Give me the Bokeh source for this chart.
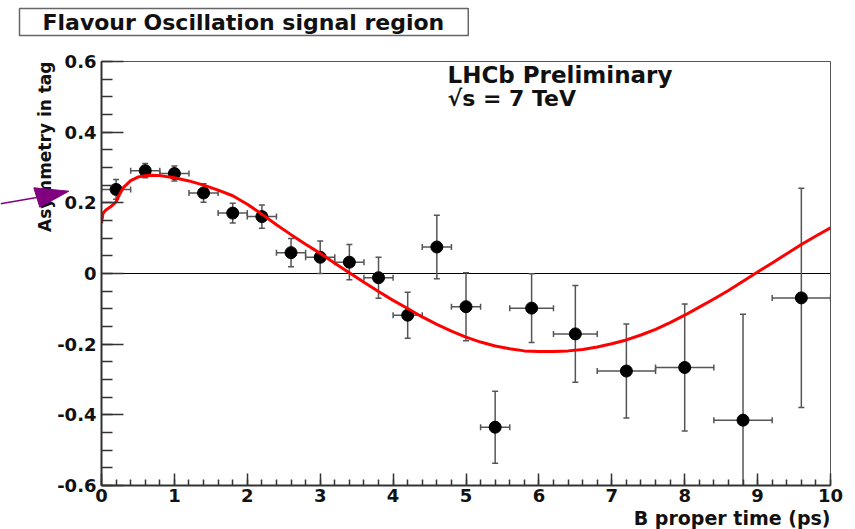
import math
from bokeh.plotting import figure
from bokeh.models import (Range1d, FixedTicker, CustomJSTickFormatter, Span,
                          Label, ColumnDataSource, Title)
from bokeh.embed import file_html
from bokeh.resources import INLINE

# ---- data ----
t = [0.2, 0.6, 1.0, 1.4, 1.8, 2.2, 2.6, 3.0, 3.4, 3.8, 4.2, 4.6, 5.0, 5.4,
     5.9, 6.5, 7.2, 8.0, 8.8, 9.6]
t_err = [0.2, 0.2, 0.2, 0.2, 0.2, 0.2, 0.2, 0.2, 0.2, 0.2, 0.2, 0.2, 0.2, 0.2,
         0.3, 0.3, 0.4, 0.4, 0.4, 0.4]
asym = [0.238, 0.291, 0.283, 0.228, 0.171, 0.161, 0.059, 0.046, 0.032, -0.012,
        -0.118, 0.075, -0.094, -0.435, -0.098, -0.171, -0.276, -0.266, -0.415, -0.069]
asym_err = [0.028, 0.020, 0.021, 0.026, 0.028, 0.033, 0.040, 0.046, 0.050, 0.058,
            0.065, 0.090, 0.096, 0.102, 0.097, 0.137, 0.133, 0.180, 0.300, 0.310]

curve_t = [0.0, 0.02, 0.06, 0.12, 0.2, 0.25, 0.3, 0.4, 0.5, 0.6, 0.7, 0.8, 1.0, 1.2,
           1.4, 1.6, 1.8, 2.0, 2.2, 2.4, 2.6, 2.8, 3.0, 3.2, 3.4, 3.6, 3.8, 4.0,
           4.2, 4.4, 4.6, 4.8, 5.0, 5.2, 5.4, 5.6, 5.8, 6.0, 6.2, 6.4, 6.6, 6.8,
           7.0, 7.2, 7.4, 7.6, 7.8, 8.0, 8.2, 8.4, 8.6, 8.8, 9.0, 9.2, 9.4, 9.6,
           9.8, 10.0]
curve_y = [0.142, 0.170, 0.180, 0.188, 0.203, 0.225, 0.243, 0.263, 0.273, 0.277,
           0.278, 0.277, 0.271, 0.262, 0.250, 0.236, 0.220, 0.196, 0.168, 0.138,
           0.110, 0.083, 0.057, 0.029, 0.002, -0.025, -0.051, -0.076, -0.099,
           -0.123, -0.144, -0.163, -0.180, -0.194, -0.205, -0.213, -0.219, -0.221,
           -0.221, -0.219, -0.215, -0.208, -0.199, -0.188, -0.174, -0.158, -0.139,
           -0.118, -0.095, -0.072, -0.048, -0.022, 0.004, 0.030, 0.056, 0.082,
           0.106, 0.129]

x_ticks = [0, 1, 2, 3, 4, 5, 6, 7, 8, 9, 10]
x_minor = [round(0.2 * k, 2) for k in range(51)]
y_ticks = [-0.6, -0.4, -0.2, 0, 0.2, 0.4, 0.6]
y_minor = [round(-0.6 + 0.05 * k, 2) for k in range(25)]

title_text = "Flavour Oscillation signal region"
x_title = "B proper time (ps)"
y_title = "Asymmetry in tag"
lhcb_text = "LHCb Preliminary"
energy_text = "\u221as = 7 TeV"

# overlay annotations, in page pixels (y measured upward from the page bottom)
PAGE_W, PAGE_H = 855, 529
title_box_x, title_box_y = 19, 521
arrow_line_x = [0, 36.3]
arrow_line_y = [325.7, 332.0]
arrow_head_x = [33.3, 39.3, 68.3]
arrow_head_y = [341.7, 322.3, 338.3]

FONT = "DejaVu Sans"

src = ColumnDataSource(dict(
    t=t, y=asym,
    x0=[a - e for a, e in zip(t, t_err)], x1=[a + e for a, e in zip(t, t_err)],
    y0=[a - e for a, e in zip(asym, asym_err)], y1=[a + e for a, e in zip(asym, asym_err)],
))

p = figure(width=PAGE_W, height=PAGE_H, x_range=Range1d(0, 10), y_range=Range1d(-0.6, 0.6),
           output_backend="svg", toolbar_location=None,
           min_border_left=101, min_border_right=25, min_border_top=61, min_border_bottom=44)
p.background_fill_color = "white"
p.border_fill_color = "white"
p.outline_line_color = "#555555"
p.outline_line_width = 1
p.xgrid.visible = False
p.ygrid.visible = False

# axis titles (ROOT style: placed at the end of the axis)
p.add_layout(Title(text=x_title, align="right", standoff=0, text_font=FONT,
                   text_font_style="bold", text_font_size="19px", text_color="#111111"),
             "below")
p.add_layout(Title(text=y_title, align="right", standoff=0, text_font=FONT,
                   text_font_style="bold", text_font_size="17px", text_color="#111111"),
             "left")

p.xaxis.ticker = FixedTicker(ticks=x_ticks, minor_ticks=x_minor)
p.yaxis.ticker = FixedTicker(ticks=y_ticks, minor_ticks=y_minor)
p.yaxis.formatter = CustomJSTickFormatter(
    code="return Math.abs(tick) < 1e-9 ? '0' : tick.toFixed(1);")
p.xaxis.formatter = CustomJSTickFormatter(code="return Math.round(tick).toString();")

for ax in (p.xaxis, p.yaxis):
    ax.axis_line_color = "#333333"
    ax.axis_line_width = 2
    ax.major_tick_line_color = "#333333"
    ax.minor_tick_line_color = "#333333"
    ax.major_tick_line_width = 1.5
    ax.minor_tick_line_width = 1.5
    ax.major_tick_out = 0
    ax.minor_tick_out = 0
    ax.major_label_text_font = FONT
    ax.major_label_text_font_style = "bold"
    ax.major_label_text_font_size = "18px"
    ax.major_label_text_color = "#111111"
    ax.major_label_standoff = 5

p.xaxis.major_label_standoff = 3
p.xaxis.major_tick_in = 12
p.xaxis.minor_tick_in = 6
p.yaxis.major_tick_in = 22
p.yaxis.minor_tick_in = 11

p.add_layout(Span(location=0, dimension="width", line_color="black", line_width=1,
                  level="underlay"))

# error bars
p.segment(x0="x0", y0="y", x1="x1", y1="y", source=src, line_color="#555555", line_width=1.5)
p.segment(x0="t", y0="y0", x1="t", y1="y1", source=src, line_color="#555555", line_width=1.5)
p.scatter(x="t", y="y1", source=src, marker="dash", size=6, line_color="#555555", line_width=1.5)
p.scatter(x="t", y="y0", source=src, marker="dash", size=6, line_color="#555555", line_width=1.5)
p.scatter(x="x0", y="y", source=src, marker="dash", size=6, angle=math.pi / 2,
          line_color="#555555", line_width=1.5)
p.scatter(x="x1", y="y", source=src, marker="dash", size=6, angle=math.pi / 2,
          line_color="#555555", line_width=1.5)
# points
p.scatter(x="t", y="y", source=src, marker="circle", size=12, fill_color="black",
          line_color="black")
# fitted curve
p.line(curve_t, curve_y, line_color="#ff0000", line_width=3)

# texts inside the frame
p.add_layout(Label(x=346, y=398, x_units="screen", y_units="screen", text=lhcb_text,
                   text_font=FONT, text_font_style="bold", text_font_size="23px",
                   text_color="#111111"))
p.add_layout(Label(x=346, y=375, x_units="screen", y_units="screen", text=energy_text,
                   text_font=FONT, text_font_style="bold", text_font_size="22px",
                   text_color="#111111"))

# full-page transparent overlay figure (separate root), 1 data unit = 1 pixel
ov = figure(width=PAGE_W, height=PAGE_H, x_range=Range1d(0, PAGE_W),
            y_range=Range1d(0, PAGE_H),
            output_backend="svg", toolbar_location=None,
            x_axis_location=None, y_axis_location=None,
            min_border=0, min_border_left=0, min_border_right=0,
            min_border_top=0, min_border_bottom=0,
            styles={"position": "absolute", "left": "0px", "top": "0px"})
ov.background_fill_color = None
ov.border_fill_color = None
ov.outline_line_color = None
ov.xgrid.visible = False
ov.ygrid.visible = False
ov.line(arrow_line_x, arrow_line_y, line_color="#800080", line_width=1.5)
ov.patch(arrow_head_x, arrow_head_y, fill_color="#800080", line_color="#800080",
         line_width=1)
ov.add_layout(Label(x=title_box_x, y=title_box_y, text=title_text,
                    text_align="left", text_baseline="top",
                    text_font=FONT, text_font_style="bold", text_font_size="22px",
                    text_color="#111111",
                    border_line_color="#666666", border_line_width=1.5,
                    background_fill_color="white",
                    padding=dict(left=23, right=24, top=1, bottom=1)))

open("out.html", "w").write(file_html([p, ov], INLINE))
